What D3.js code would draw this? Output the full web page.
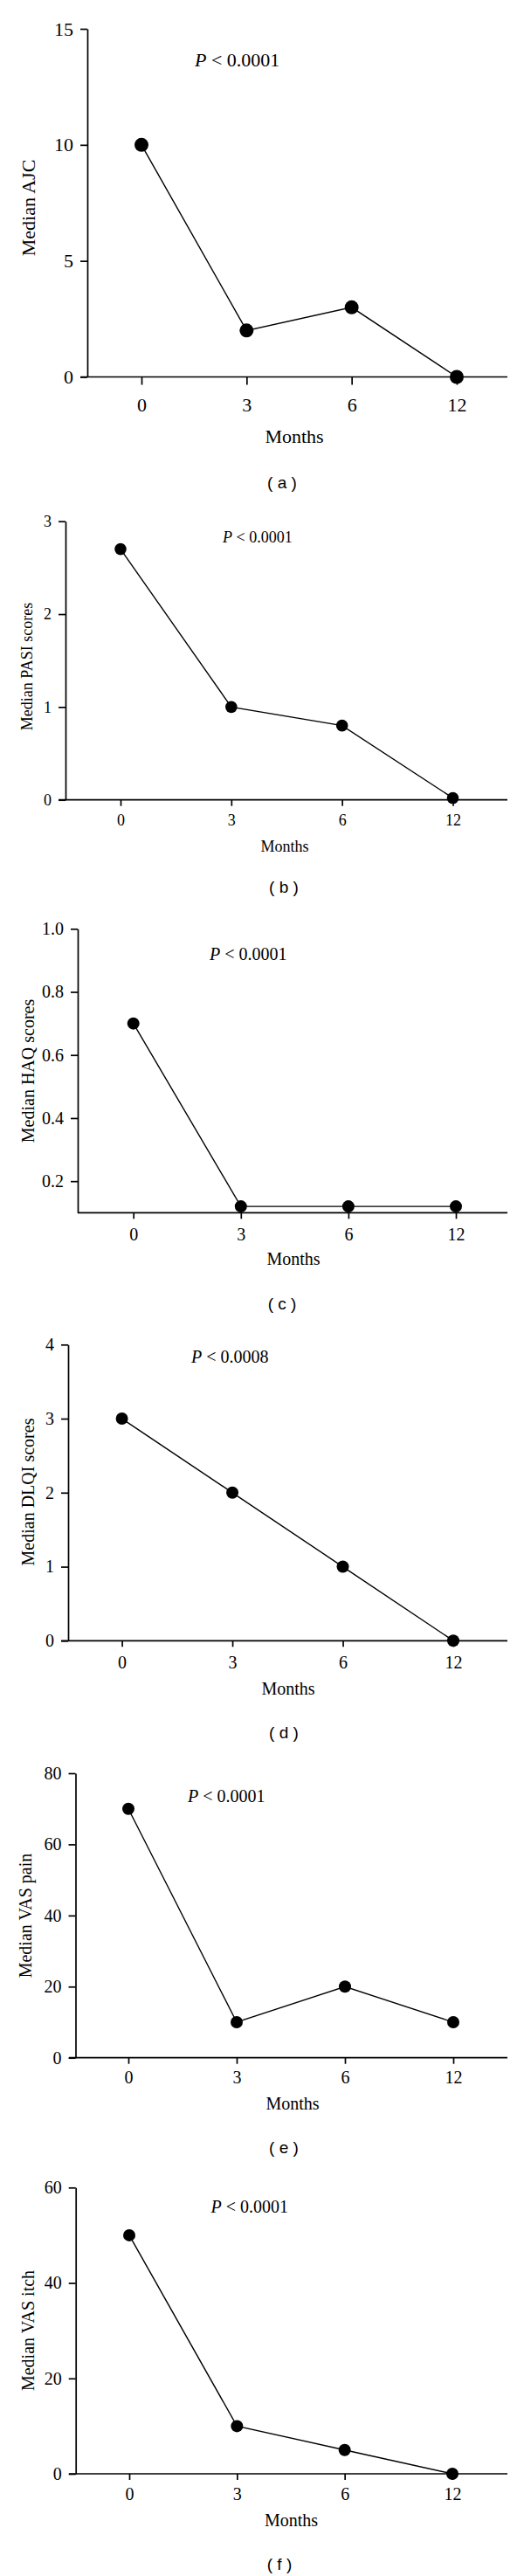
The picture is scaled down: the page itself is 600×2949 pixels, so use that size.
<!DOCTYPE html>
<html>
<head>
<meta charset="utf-8">
<script src="https://cdn.jsdelivr.net/npm/d3@7"></script>
<style>
  body { margin: 0; background: #fff; }
  text { fill: #000; }
</style>
</head>
<body>
<div id="chart"></div>
<script>
// months of follow-up (x categories)
const months = ["0", "3", "6", "12"];

// median values
const ajc = [10, 2, 3, 0];
const pasi = [2.7, 1.0, 0.8, 0.02];
const haq = [0.7, 0.12, 0.12, 0.12];
const dlqi = [3, 2, 1, 0];
const vasPain = [70, 10, 20, 10];
const vasItch = [50, 10, 5, 0];

// y tick values per panel
const ajcTicks = [0, 5, 10, 15];
const pasiTicks = [0, 1, 2, 3];
const haqTicks = [0.2, 0.4, 0.6, 0.8, 1.0];
const dlqiTicks = [0, 1, 2, 3, 4];
const painTicks = [0, 20, 40, 60, 80];
const itchTicks = [0, 20, 40, 60];

const yLabels = ["Median AJC", "Median PASI scores", "Median HAQ scores",
                 "Median DLQI scores", "Median VAS pain", "Median VAS itch"];
const pValues = ["0.0001", "0.0001", "0.0001", "0.0008", "0.0001", "0.0001"];
const captions = ["a", "b", "c", "d", "e", "f"];

const series = [ajc, pasi, haq, dlqi, vasPain, vasItch];
const tickSets = [ajcTicks, pasiTicks, haqTicks, dlqiTicks, painTicks, itchTicks];
const yDomains = [[0, 15], [0, 3], [0.1, 1.0], [0, 4], [0, 80], [0, 60]];

// layout of each panel in page pixels
const layout = [
  { ax: 100, top: 33, bottom: 431.5, x0: 162, x1: 523, left: 92, fs: 22, r: 8, tk: 9,
    labX: 40, labY: 238, px: 223, py: 76, tickY: 463, mx: 337, my: 507, cx: 323, cy: 552 },
  { ax: 75, top: 596.7, bottom: 915.7, x0: 138, x1: 518.5, left: 67, fs: 18, r: 6.8, tk: 7,
    labX: 37, labY: 763, px: 255, py: 621, tickY: 939, mx: 326, my: 975, cx: 325, cy: 1015 },
  { ax: 89, top: 1063.3, bottom: 1388.3, x0: 152.7, x1: 522, left: 89, fs: 20, r: 7, tk: 7,
    labX: 38.5, labY: 1226, px: 240, py: 1099, tickY: 1413, mx: 336, my: 1448, cx: 323, cy: 1492 },
  { ax: 78, top: 1539.3, bottom: 1878.3, x0: 139.6, x1: 519, left: 70, fs: 20, r: 7, tk: 7,
    labX: 38.5, labY: 1708, px: 219, py: 1560, tickY: 1903, mx: 330, my: 1940, cx: 325, cy: 1983 },
  { ax: 86.5, top: 2030, bottom: 2355.7, x0: 147, x1: 519, left: 79, fs: 20, r: 7, tk: 7,
    labX: 36, labY: 2193, px: 215, py: 2063, tickY: 2378, mx: 335, my: 2415, cx: 325, cy: 2458 },
  { ax: 86.7, top: 2504.3, bottom: 2832, x0: 148, x1: 518, left: 79, fs: 20, r: 7, tk: 7,
    labX: 38.5, labY: 2668, px: 241.5, py: 2533, tickY: 2855, mx: 333.5, my: 2892, cx: 320, cy: 2935 }
];

const width = 600, height = 2949;
const serif = "'Liberation Serif', 'Times New Roman', serif";

const svg = d3.select("#chart").append("svg")
  .attr("width", width)
  .attr("height", height);

layout.forEach((L, i) => {
  const g = svg.append("g");
  const x = d3.scalePoint().domain(months).range([L.x0, L.x1]);
  const y = d3.scaleLinear().domain(yDomains[i]).range([L.bottom, L.top]);
  const fmt = i === 2 ? d3.format(".1f") : d3.format("d");

  // y axis
  const yAxis = g.append("g")
    .attr("transform", `translate(${L.ax},0)`)
    .call(d3.axisLeft(y).tickValues(tickSets[i]).tickFormat(fmt).tickSize(8).tickSizeOuter(0).tickPadding(8));
  yAxis.select(".domain").attr("stroke-width", 1.7);
  yAxis.selectAll(".tick line").attr("stroke-width", 1.7);
  yAxis.selectAll("text").attr("font-family", serif).attr("font-size", L.fs).attr("fill", "#000");

  // x axis baseline spans past the last tick
  g.append("line")
    .attr("x1", L.left).attr("x2", 581)
    .attr("y1", L.bottom).attr("y2", L.bottom)
    .attr("stroke", "#000").attr("stroke-width", 1.7);

  const xAxis = g.append("g")
    .attr("transform", `translate(0,${L.bottom})`)
    .call(d3.axisBottom(x).tickSize(L.tk).tickSizeOuter(0).tickPadding(0));
  xAxis.select(".domain").remove();
  xAxis.selectAll(".tick line").attr("stroke-width", 1.7);
  xAxis.selectAll("text")
    .attr("font-family", serif).attr("font-size", L.fs).attr("fill", "#000")
    .attr("y", L.tickY - L.bottom).attr("dy", "0.35em");

  // data line and points
  const pts = months.map((m, j) => [x(m), y(series[i][j])]);
  g.append("path")
    .attr("d", d3.line()(pts))
    .attr("fill", "none").attr("stroke", "#000").attr("stroke-width", 1.4);
  g.selectAll("circle").data(pts).enter().append("circle")
    .attr("cx", d => d[0]).attr("cy", d => d[1]).attr("r", L.r)
    .attr("fill", "#000");

  // axis titles
  g.append("text")
    .attr("transform", `translate(${L.labX},${L.labY}) rotate(-90)`)
    .attr("text-anchor", "middle")
    .attr("font-family", serif).attr("font-size", L.fs)
    .text(yLabels[i]);
  g.append("text")
    .attr("x", L.mx).attr("y", L.my)
    .attr("text-anchor", "middle")
    .attr("font-family", serif).attr("font-size", L.fs)
    .text("Months");

  // p value annotation
  const p = g.append("text")
    .attr("x", L.px).attr("y", L.py)
    .attr("font-family", serif).attr("font-size", L.fs);
  p.append("tspan").attr("font-style", "italic").text("P");
  p.append("tspan").text(" < " + pValues[i]);

  // panel caption
  g.append("text")
    .attr("x", L.cx).attr("y", L.cy).attr("dy", "0.35em")
    .attr("text-anchor", "middle")
    .attr("font-family", "'Liberation Sans', Arial, sans-serif").attr("font-size", 19)
    .text("( " + captions[i] + " )");
});
</script>
</body>
</html>
